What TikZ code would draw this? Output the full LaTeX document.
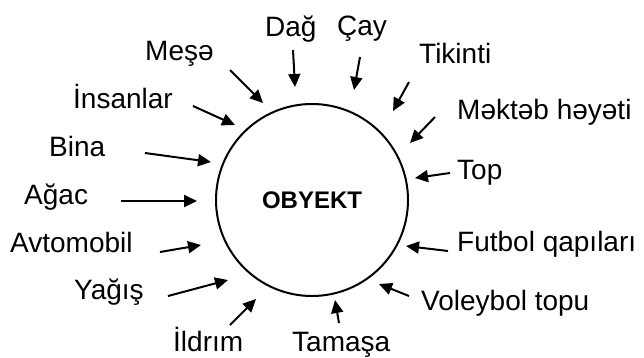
\documentclass[tikz,border=0pt]{standalone}
\usepackage{fontspec}
\setmainfont{Liberation Sans}
\usetikzlibrary{arrows.meta}
\begin{document}
\begin{tikzpicture}[x=1pt,y=-1pt,
  lbl/.style={anchor=base west,inner sep=0pt,font=\fontsize{28}{32}\selectfont},
  arr/.style={line width=2pt,-{Triangle[length=13pt,width=12pt]}},
  obj/.style={circle,draw,line width=2pt,minimum size=192pt,inner sep=0pt,font=\fontsize{24}{27}\selectfont\bfseries}]
\useasboundingbox (0,0) rectangle (644,357);
\node[obj] (o) at (312,200) {OBYEKT};
% labels
\node[lbl] (mese) at (145,60) {Meşə};
\node[lbl] (dag) at (265,36) {Dağ};
\node[lbl] (cay) at (337,35) {Çay};
\node[lbl] (tik) at (419,63) {Tikinti};
\node[lbl] (ins) at (73,108) {İnsanlar};
\node[lbl] (mek) at (457,119) {Məktəb həyəti};
\node[lbl] (bina) at (49,156) {Bina};
\node[lbl] (top) at (457,179) {Top};
\node[lbl] (agac) at (24,204) {Ağac};
\node[lbl] (avto) at (10,252) {Avtomobil};
\node[lbl] (fut) at (457,251) {Futbol qapıları};
\node[lbl] (yag) at (74,299) {Yağış};
\node[lbl] (vol) at (421,310) {Voleybol topu};
\node[lbl] (ild) at (173,351) {İldrım};
\node[lbl] (tam) at (292,351) {Tamaşa};
% arrow ends
\coordinate (a1) at (230,70);  \coordinate (b1) at (263,103);
\coordinate (a2) at (293,50);  \coordinate (b2) at (295,87);
\coordinate (a3) at (193,106); \coordinate (b3) at (235,125);
\coordinate (a4) at (145,153); \coordinate (b4) at (211,162);
\coordinate (a5) at (360,57);  \coordinate (b5) at (354,90);
\coordinate (a6) at (409,82);  \coordinate (b6) at (393,111);
\coordinate (a7) at (435,117); \coordinate (b7) at (410,143);
\coordinate (a8) at (450,173); \coordinate (b8) at (415,178);
\coordinate (a9) at (121,201); \coordinate (b9) at (197,201);
\coordinate (a10) at (160,252); \coordinate (b10) at (201,245);
\coordinate (a11) at (168,296); \coordinate (b11) at (228,280);
\coordinate (a12) at (230,325); \coordinate (b12) at (256,299);
\coordinate (a13) at (448,251); \coordinate (b13) at (406,246);
\coordinate (a14) at (409,296); \coordinate (b14) at (379,284);
\coordinate (a15) at (339,323); \coordinate (b15) at (335,300);
\foreach \i in {1,...,15} {\draw[arr] (a\i) -- (b\i);}
\end{tikzpicture}
\end{document}
